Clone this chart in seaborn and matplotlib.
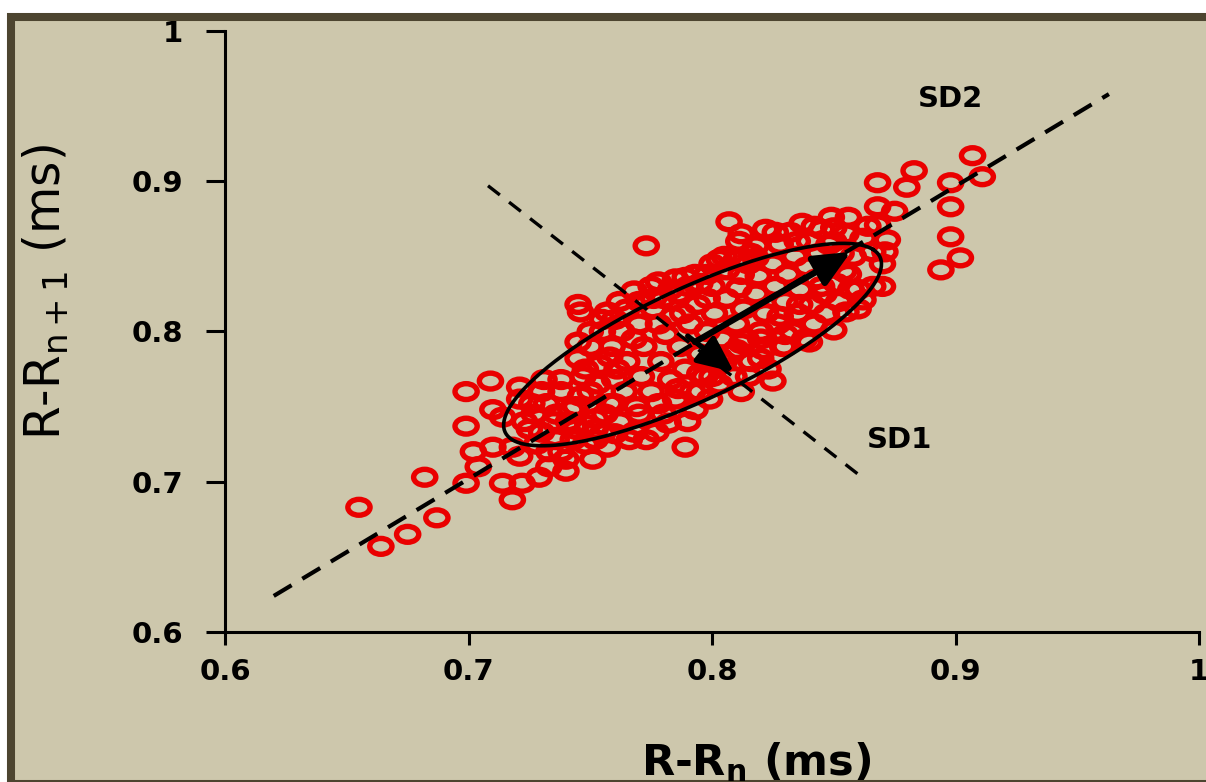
import numpy as np
import matplotlib
matplotlib.use("Agg")
import matplotlib.pyplot as plt
from matplotlib.path import Path
from matplotlib.patches import Rectangle
import seaborn as sns
import pandas as pd

# ---------------- data ----------------
rr_n = [
    0.655, 0.664, 0.675, 0.682, 0.687, 0.699, 0.699, 0.699, 0.702, 0.704, 0.709, 0.710,
    0.710, 0.714, 0.714, 0.718, 0.718, 0.721, 0.721, 0.721, 0.722, 0.729, 0.731, 0.733,
    0.725, 0.727, 0.728, 0.732, 0.735, 0.736, 0.738, 0.740, 0.740, 0.742,
    0.744, 0.745, 0.745, 0.746, 0.744, 0.747, 0.748, 0.750, 0.751, 0.752,
    0.754, 0.755, 0.757, 0.757, 0.758, 0.759, 0.760, 0.762, 0.763, 0.764,
    0.765, 0.766, 0.768, 0.768, 0.769, 0.770, 0.771, 0.772, 0.773, 0.773,
    0.775, 0.776, 0.777, 0.778, 0.779, 0.780, 0.781, 0.782, 0.783, 0.784,
    0.785, 0.786, 0.787, 0.789, 0.789, 0.790, 0.791, 0.792, 0.793, 0.793,
    0.794, 0.795, 0.797, 0.798, 0.799, 0.800, 0.801, 0.802, 0.803, 0.804,
    0.806, 0.806, 0.807, 0.808, 0.809, 0.810, 0.811, 0.811, 0.812, 0.813,
    0.814, 0.815, 0.816, 0.818, 0.818, 0.818, 0.819, 0.820, 0.821, 0.822,
    0.822, 0.823, 0.825, 0.825, 0.826, 0.827, 0.828, 0.829, 0.830, 0.831,
    0.832, 0.833, 0.834, 0.835, 0.836, 0.837, 0.838, 0.839, 0.840, 0.841,
    0.842, 0.843, 0.844, 0.845, 0.846, 0.847, 0.848, 0.849, 0.850, 0.850,
    0.851, 0.852, 0.853, 0.854, 0.855, 0.856, 0.856, 0.857, 0.858, 0.860,
    0.860, 0.862, 0.864, 0.866, 0.866, 0.868, 0.868, 0.868, 0.870, 0.870,
    0.871, 0.872, 0.875, 0.880, 0.883, 0.894, 0.898, 0.898, 0.898, 0.902, 0.907, 0.911,
    0.723, 0.726, 0.730, 0.733, 0.736, 0.738, 0.741, 0.743, 0.746, 0.749,
    0.752, 0.753, 0.756, 0.760, 0.761, 0.745, 0.750, 0.755, 0.760, 0.765,
    0.770, 0.775, 0.780, 0.785, 0.790, 0.795, 0.800, 0.805, 0.810, 0.812,
    0.798, 0.788, 0.778, 0.768, 0.758, 0.748, 0.738, 0.730,
    0.795, 0.800, 0.805, 0.810, 0.815, 0.820, 0.830, 0.840, 0.850, 0.855, 0.862, 0.830,
    0.812, 0.826, 0.835, 0.842, 0.848, 0.816, 0.803, 0.798, 0.789, 0.783, 0.776, 0.762,
    0.755, 0.750, 0.770, 0.778, 0.786, 0.795, 0.803, 0.812, 0.820, 0.828, 0.836, 0.845,
    0.760, 0.752,
]
rr_n1 = [
    0.683, 0.657, 0.665, 0.703, 0.676, 0.760, 0.737, 0.699, 0.720, 0.710, 0.767, 0.748,
    0.723, 0.743, 0.699, 0.688, 0.723, 0.763, 0.755, 0.717, 0.699, 0.703, 0.768, 0.710,
    0.735, 0.745, 0.725, 0.752, 0.740, 0.728, 0.760, 0.715, 0.707, 0.748,
    0.735, 0.793, 0.818, 0.813, 0.750, 0.770, 0.725, 0.760, 0.715, 0.742,
    0.778, 0.732, 0.723, 0.813, 0.752, 0.790, 0.768, 0.740, 0.800, 0.760,
    0.780, 0.728, 0.733, 0.827, 0.750, 0.805, 0.770, 0.790, 0.857, 0.728,
    0.760, 0.815, 0.733, 0.833, 0.780, 0.745, 0.798, 0.739, 0.768, 0.810,
    0.755, 0.825, 0.790, 0.723, 0.775, 0.740, 0.805, 0.760, 0.838, 0.748,
    0.818, 0.785, 0.770, 0.800, 0.755, 0.830, 0.812, 0.778, 0.765, 0.795,
    0.841, 0.822, 0.873, 0.785, 0.770, 0.805, 0.829, 0.860, 0.760, 0.815,
    0.795, 0.845, 0.780, 0.857, 0.849, 0.825, 0.837, 0.800, 0.788, 0.868,
    0.812, 0.775, 0.767, 0.845, 0.830, 0.805, 0.858, 0.790, 0.820, 0.838,
    0.866, 0.800, 0.850, 0.812, 0.828, 0.872, 0.795, 0.843, 0.860, 0.818,
    0.805, 0.835, 0.852, 0.868, 0.825, 0.812, 0.845, 0.876, 0.860, 0.869,
    0.832, 0.820, 0.852, 0.840, 0.865, 0.876, 0.838, 0.828, 0.850, 0.828,
    0.815, 0.862, 0.870, 0.853, 0.830, 0.899, 0.883, 0.871, 0.845, 0.830,
    0.853, 0.861, 0.880, 0.896, 0.907, 0.841, 0.899, 0.883, 0.863, 0.849, 0.917, 0.903,
    0.740, 0.752, 0.733, 0.720, 0.745, 0.720, 0.740, 0.728, 0.757, 0.738,
    0.728, 0.765, 0.745, 0.732, 0.775, 0.782, 0.790, 0.800, 0.808, 0.815,
    0.820, 0.830, 0.822, 0.835, 0.830, 0.832, 0.845, 0.850, 0.848, 0.838,
    0.822, 0.812, 0.805, 0.795, 0.783, 0.775, 0.768, 0.760,
    0.760, 0.770, 0.780, 0.788, 0.770, 0.782, 0.798, 0.793, 0.801, 0.813, 0.821, 0.790,
    0.865, 0.866, 0.860, 0.870, 0.858, 0.852, 0.848, 0.838, 0.836, 0.828, 0.822, 0.820,
    0.808, 0.800, 0.745, 0.752, 0.762, 0.772, 0.783, 0.792, 0.795, 0.810, 0.818, 0.830,
    0.752, 0.735,
]

# identity (SD2) and perpendicular (SD1) guide lines: endpoints in data units
sd2_line_x = [0.620, 0.963]
sd2_line_y = [0.624, 0.958]
sd1_line_x = [0.708, 0.860]
sd1_line_y = [0.897, 0.705]

# fitted ellipse: centre, major half-axis vector, minor half-axis vector (data units)
ell_center = (0.792, 0.7913)
ell_major = (0.0741, 0.0633)
ell_minor = (-0.023, 0.023)

# SD arrows: start / end in data units
sd2_arrow = ((0.793, 0.793), (0.857, 0.853))
sd1_arrow = ((0.790, 0.797), (0.809, 0.773))

tick_values = [0.6, 0.7, 0.8, 0.9, 1.0]
tick_labels = ["0.6", "0.7", "0.8", "0.9", "1"]

# ---------------- styling ----------------
sns.set_style("ticks")
plt.rcParams['font.family'] = ['DejaVu Sans']
plt.rcParams['text.color'] = 'black'
plt.rcParams['axes.labelcolor'] = 'black'
plt.rcParams['xtick.color'] = 'black'
plt.rcParams['ytick.color'] = 'black'

BG = "#cdc7ac"
FRAME = "#4d4530"
RED = "#ea0000"

fig = plt.figure(figsize=(12.06, 7.82), dpi=100, facecolor="white")
frame = Rectangle((0.00912, -0.00256), 0.9984, 0.9808,
                  transform=fig.transFigure, facecolor=BG,
                  edgecolor=FRAME, linewidth=5.8, zorder=-10)
fig.add_artist(frame)

ax = fig.add_axes([0.1866, 0.1918, 0.8076, 0.7686])
ax.set_zorder(1)
ax.set_facecolor("none")
ax.patch.set_alpha(0)

df = pd.DataFrame({"rr_n": rr_n, "rr_n1": rr_n1})

# slightly wide ring marker (the source image is stretched horizontally)
circ = Path.unit_circle()
ring = Path(circ.vertices * np.array([1.4, 1.0]), circ.codes)

sns.scatterplot(data=df, x="rr_n", y="rr_n1", ax=ax, marker=ring, s=255,
                color=RED, facecolor="none", edgecolor=RED, linewidth=3.9,
                zorder=2, legend=False)

ax.plot(sd2_line_x, sd2_line_y, color="black", lw=3.0, dashes=(5, 3), zorder=3)
ax.plot(sd1_line_x, sd1_line_y, color="black", lw=2.4, dashes=(4.5, 3.5), zorder=3)

t = np.linspace(0, 2 * np.pi, 300)
ex = ell_center[0] + ell_major[0] * np.cos(t) + ell_minor[0] * np.sin(t)
ey = ell_center[1] + ell_major[1] * np.cos(t) + ell_minor[1] * np.sin(t)
ax.plot(ex, ey, color="black", lw=2.6, zorder=4)

ax.annotate("", xy=sd2_arrow[1], xytext=sd2_arrow[0],
            arrowprops=dict(arrowstyle="-|>,head_length=1.1,head_width=0.5",
                            mutation_scale=20, lw=4.5, color="black",
                            shrinkA=0, shrinkB=0), zorder=5)
ax.annotate("", xy=sd1_arrow[1], xytext=sd1_arrow[0],
            arrowprops=dict(arrowstyle="-|>,head_length=1.1,head_width=0.5",
                            mutation_scale=20, lw=3.8, color="black",
                            shrinkA=0, shrinkB=0), zorder=5)

ax.text(0.898, 0.955, "SD2", ha="center", va="center", fontsize=21,
        fontweight="bold", color="black")
ax.text(0.877, 0.728, "SD1", ha="center", va="center", fontsize=21,
        fontweight="bold", color="black")

ax.set_xlim(0.6, 1.0)
ax.set_ylim(0.6, 1.0)
ax.set_xticks(tick_values)
ax.set_xticklabels(tick_labels, fontsize=21, fontweight="bold")
ax.set_yticks(tick_values)
ax.set_yticklabels(tick_labels, fontsize=21, fontweight="bold")

for side in ["top", "right"]:
    ax.spines[side].set_visible(False)
for side in ["left", "bottom"]:
    ax.spines[side].set_linewidth(2.2)
    ax.spines[side].set_color("black")

ax.tick_params(axis="x", direction="out", length=9.5, width=2.2, pad=9, colors="black")
ax.tick_params(axis="y", direction="out", length=14, width=2.2, pad=16, colors="black")

ax.set_xlabel(r"R-R$_\mathbf{n}$ (ms)", fontsize=31, fontweight="bold")
ax.xaxis.set_label_coords(0.545, -0.18)
ax.set_ylabel(r"R-R$_\mathregular{n+1}$ (ms)", fontsize=35)
ax.yaxis.set_label_coords(-0.158, 0.566)

fig.savefig("out.png", dpi=100, facecolor=fig.get_facecolor())
